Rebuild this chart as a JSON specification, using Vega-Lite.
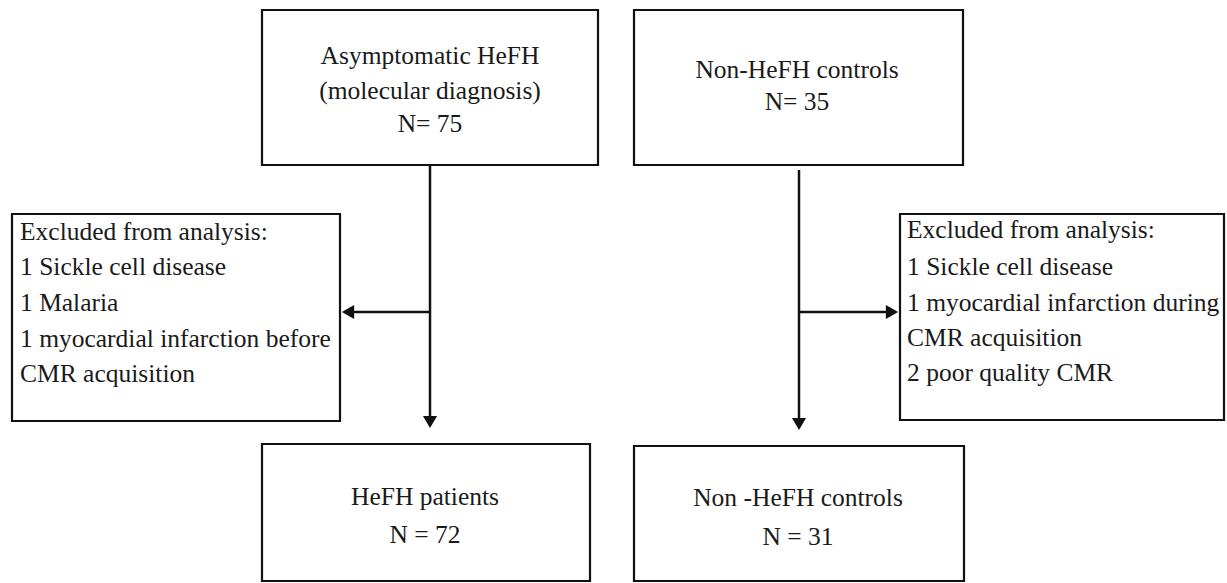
{
  "$schema": "https://vega.github.io/schema/vega-lite/v6.json",
  "width": 1227,
  "height": 583,
  "autosize": {"type": "fit", "contains": "padding"},
  "padding": 0,
  "background": "white",
  "config": {"view": {"stroke": null}},
  "datasets": {
    "boxes": [
      {"id": "b1", "x": 262, "x2": 598, "y": 10, "y2": 165},
      {"id": "b2", "x": 634, "x2": 963, "y": 10, "y2": 165},
      {"id": "b3", "x": 12, "x2": 340, "y": 214, "y2": 421},
      {"id": "b4", "x": 900, "x2": 1224, "y": 214, "y2": 420},
      {"id": "b5", "x": 262, "x2": 590, "y": 444, "y2": 581},
      {"id": "b6", "x": 634, "x2": 964, "y": 446, "y2": 581}
    ],
    "lines": [
      {"id": "l1", "x": 430, "x2": 430, "y": 165, "y2": 418},
      {"id": "l2", "x": 430, "x2": 350, "y": 312, "y2": 312},
      {"id": "l3", "x": 799, "x2": 799, "y": 170, "y2": 420},
      {"id": "l4", "x": 799, "x2": 890, "y": 312, "y2": 312}
    ],
    "heads": [
      {"id": "h1", "x": 430, "y": 422, "dir": "triangle-down"},
      {"id": "h2", "x": 348, "y": 312, "dir": "triangle-left"},
      {"id": "h3", "x": 799, "y": 424, "dir": "triangle-down"},
      {"id": "h4", "x": 892, "y": 312, "dir": "triangle-right"}
    ],
    "ctext": [
      {"t": "Asymptomatic HeFH", "x": 430, "y": 56},
      {"t": "(molecular diagnosis)", "x": 430, "y": 91},
      {"t": "N= 75", "x": 430, "y": 124},
      {"t": "Non-HeFH  controls", "x": 797, "y": 70},
      {"t": "N= 35", "x": 797, "y": 102},
      {"t": "HeFH  patients", "x": 425, "y": 497},
      {"t": "N = 72", "x": 425, "y": 535},
      {"t": "Non -HeFH  controls", "x": 798, "y": 498},
      {"t": "N = 31", "x": 798, "y": 537}
    ],
    "ltext": [
      {"t": "Excluded  from analysis:", "x": 20, "y": 232},
      {"t": "1 Sickle cell disease", "x": 20, "y": 267},
      {"t": "1 Malaria", "x": 20, "y": 303},
      {"t": "1 myocardial infarction before", "x": 20, "y": 339},
      {"t": "CMR  acquisition", "x": 20, "y": 374},
      {"t": "Excluded  from analysis:", "x": 907, "y": 230},
      {"t": "1 Sickle cell disease", "x": 907, "y": 267},
      {"t": "1 myocardial infarction during", "x": 907, "y": 303},
      {"t": "CMR  acquisition", "x": 907, "y": 338},
      {"t": "2 poor quality CMR", "x": 907, "y": 373}
    ]
  },
  "layer": [
    {
      "data": {"name": "boxes"},
      "mark": {"type": "rect", "fill": "white", "stroke": "#111", "strokeWidth": 2.2},
      "encoding": {
        "x": {"field": "x", "type": "quantitative", "scale": {"domain": [0, 1227]}, "axis": null},
        "x2": {"field": "x2"},
        "y": {"field": "y", "type": "quantitative", "scale": {"domain": [0, 583], "reverse": true}, "axis": null},
        "y2": {"field": "y2"}
      }
    },
    {
      "data": {"name": "lines"},
      "mark": {"type": "rule", "stroke": "#111", "strokeWidth": 2.5},
      "encoding": {
        "x": {"field": "x", "type": "quantitative", "scale": {"domain": [0, 1227]}, "axis": null},
        "x2": {"field": "x2"},
        "y": {"field": "y", "type": "quantitative", "scale": {"domain": [0, 583], "reverse": true}, "axis": null},
        "y2": {"field": "y2"}
      }
    },
    {
      "data": {"name": "heads"},
      "mark": {"type": "point", "filled": true, "color": "#111", "opacity": 1, "size": 200},
      "encoding": {
        "x": {"field": "x", "type": "quantitative", "scale": {"domain": [0, 1227]}, "axis": null},
        "y": {"field": "y", "type": "quantitative", "scale": {"domain": [0, 583], "reverse": true}, "axis": null},
        "shape": {"field": "dir", "type": "nominal", "scale": null, "legend": null}
      }
    },
    {
      "data": {"name": "ctext"},
      "mark": {"type": "text", "font": "'Liberation Serif', 'Times New Roman', serif", "fontSize": 25.5, "color": "#1a1a1a", "align": "center", "baseline": "middle"},
      "encoding": {
        "x": {"field": "x", "type": "quantitative", "scale": {"domain": [0, 1227]}, "axis": null},
        "y": {"field": "y", "type": "quantitative", "scale": {"domain": [0, 583], "reverse": true}, "axis": null},
        "text": {"field": "t"}
      }
    },
    {
      "data": {"name": "ltext"},
      "mark": {"type": "text", "font": "'Liberation Serif', 'Times New Roman', serif", "fontSize": 25.5, "color": "#1a1a1a", "align": "left", "baseline": "middle"},
      "encoding": {
        "x": {"field": "x", "type": "quantitative", "scale": {"domain": [0, 1227]}, "axis": null},
        "y": {"field": "y", "type": "quantitative", "scale": {"domain": [0, 583], "reverse": true}, "axis": null},
        "text": {"field": "t"}
      }
    }
  ]
}
